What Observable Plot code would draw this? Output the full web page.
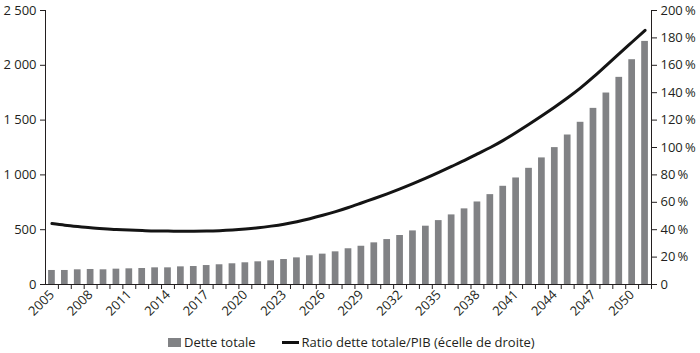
<!DOCTYPE html>
<html>
<head>
<meta charset="utf-8">
<script src="https://cdn.jsdelivr.net/npm/d3@7"></script>
<script src="https://cdn.jsdelivr.net/npm/@observablehq/plot@0.6"></script>
<style>
  html, body { margin: 0; padding: 0; background: #fff; }
  #wrap { position: relative; width: 700px; height: 353px; font-family: "Open Sans", sans-serif; color: #231f20; }
  #legend { position: absolute; top: 333px; left: 168px; display: flex; align-items: center; font-size: 13px; white-space: nowrap; }
  .sw-bar { display: inline-block; width: 13px; height: 9px; background: #818285; margin-right: 3px; }
  .sw-line { display: inline-block; width: 17px; height: 3px; background: #111; margin-left: 26px; margin-right: 3px; }
</style>
</head>
<body>
<div id="wrap">
  <div id="chart"></div>
  <div id="legend">
    <span class="sw-bar"></span><span>Dette totale</span>
    <span class="sw-line"></span><span>Ratio dette totale/PIB (écelle de droite)</span>
  </div>
</div>
<script>
const years = [2005,2006,2007,2008,2009,2010,2011,2012,2013,2014,2015,2016,
  2017,2018,2019,2020,2021,2022,2023,2024,2025,2026,2027,2028,
  2029,2030,2031,2032,2033,2034,2035,2036,2037,2038,2039,2040,
  2041,2042,2043,2044,2045,2046,2047,2048,2049,2050,2051];
const debt = [128,128,134,137,134,140,143,146,152,152,161,164,
  173,180,189,198,207,216,228,243,262,277,298,326,
  349,380,410,447,489,532,583,635,690,753,820,896,
  972,1060,1155,1249,1364,1480,1607,1747,1890,2051,2218];
const ratio = [44.5,43.3,42.3,41.4,40.7,40.1,39.7,39.4,39.1,39.0,38.9,38.9,
  39.0,39.3,39.8,40.5,41.4,42.6,44.0,45.8,48.0,50.5,53.2,56.2,
  59.5,62.8,66.2,69.8,73.6,77.6,81.8,86.2,90.6,95.3,100.0,105.2,
  111.0,117.0,123.2,129.6,136.3,143.5,151.5,160.0,168.5,177.0,185.5];
const xLabelYears = [2005,2008,2011,2014,2017,2020,2023,2026,2029,2032,2035,2038,2041,2044,2047,2050];
const leftTicks = [0,500,1000,1500,2000,2500];
const rightTicks = [0,20,40,60,80,100,120,140,160,180,200];

const leftMax = 2500, rightMax = 200;
const k = leftMax / rightMax;
const data = years.map((y, i) => ({year: y, debt: debt[i], ratio: ratio[i]}));
const fmtLeft = d => d3.format(",")(d).replace(/,/g, " ");
const half = (700 - 45 - 49) / years.length / 2;

const chart = Plot.plot({
  width: 700,
  height: 330,
  marginLeft: 45,
  marginRight: 49,
  marginTop: 10,
  marginBottom: 46,
  style: {fontFamily: "Open Sans", fontSize: "13px", color: "#231f20", background: "#fff"},
  x: {type: "band", domain: years, paddingInner: 0.48, paddingOuter: 0.24},
  y: {domain: [0, leftMax]},
  marks: [
    Plot.barY(data, {x: "year", y: "debt", fill: "#818285"}),
    Plot.line(data, {x: "year", y: d => d.ratio * k, stroke: "#141414", strokeWidth: 3, curve: "natural"}),
    Plot.axisY(leftTicks, {anchor: "left", tickFormat: fmtLeft, tickSize: 5, tickPadding: 4, label: null, fontSize: 13}),
    Plot.axisY(rightTicks.map(v => v * k), {anchor: "right", tickFormat: d => d === 0 ? "0" : (d / k) + "\u2009%", tickSize: 5, tickPadding: 4, label: null, fontSize: 13}),
    Plot.axisX(years, {tickFormat: () => "", tickSize: 5, dx: half, label: null}),
    Plot.axisX(xLabelYears, {tickRotate: -45, tickSize: 0, tickPadding: 8, label: null, fontSize: 13, tickFormat: d => String(d)}),
    Plot.ruleY([0], {stroke: "#231f20"}),
    Plot.frame({anchor: "left", stroke: "#231f20"}),
    Plot.frame({anchor: "right", stroke: "#231f20"})
  ]
});
document.getElementById("chart").appendChild(chart);
</script>
</body>
</html>
